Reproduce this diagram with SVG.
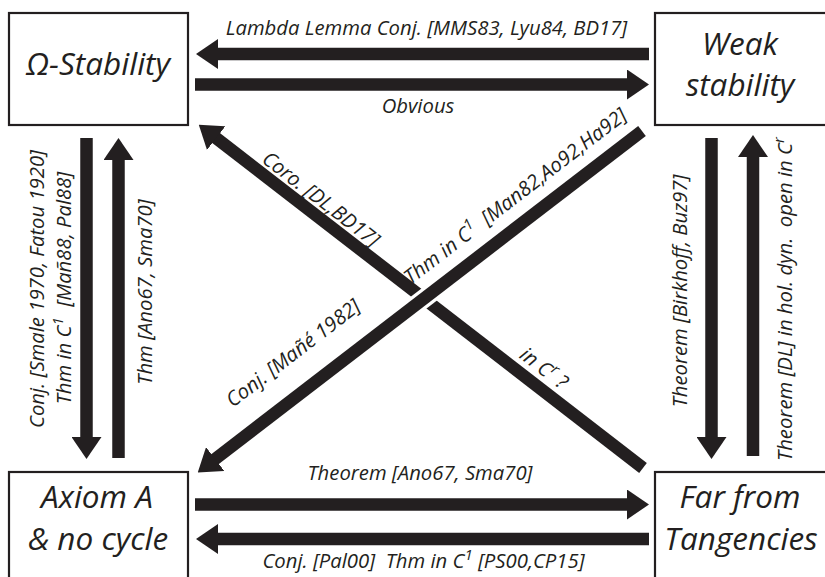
<svg xmlns="http://www.w3.org/2000/svg" width="825" height="577" viewBox="0 0 825 577">
<defs>
<marker id="ah" viewBox="0 0 22 30" refX="1" refY="15" markerWidth="22" markerHeight="30" markerUnits="userSpaceOnUse" orient="auto">
<path d="M0,0 L22,15 L0,30 z" fill="#231f20"/>
</marker>
<style>
.box{fill:#fff;stroke:#231f20;stroke-width:2.2}
.node{font-family:"Open Sans","Noto Sans",sans-serif;font-style:italic;font-size:31.5px;fill:#231f20;text-anchor:middle}
.lbl{font-family:"Open Sans","Noto Sans",sans-serif;font-style:italic;font-size:20.3px;fill:#231f20;text-anchor:middle}
.ar{stroke:#231f20;stroke-width:12.5;fill:none;marker-end:url(#ah)}
.sup{font-size:15px}
</style>
</defs>
<rect width="825" height="577" fill="#fff"/>
<g id="omega">
<rect class="box" x="9" y="13" width="179" height="112"/>
<text class="node" x="98" y="75">Ω-Stability</text>
</g>
<g id="weak">
<rect class="box" x="655" y="13" width="185" height="112"/>
<text class="node" x="740" y="55">Weak</text>
<text class="node" x="740" y="96">stability</text>
</g>
<g id="axiom">
<rect class="box" x="9" y="472" width="179" height="130"/>
<text class="node" x="97" y="508">Axiom A</text>
<text class="node" x="98" y="550">&amp; no cycle</text>
</g>
<g id="far">
<rect class="box" x="655" y="472" width="185" height="130"/>
<text class="node" x="740" y="508">Far from</text>
<text class="node" x="741" y="550">Tangencies</text>
</g>
<g id="connectors">
<line class="ar" x1="649" y1="54" x2="217" y2="54"/>
<line class="ar" x1="195" y1="84.5" x2="628" y2="84.5"/>
<line class="ar" x1="195" y1="504.5" x2="628" y2="504.5"/>
<line class="ar" x1="649" y1="539" x2="217" y2="539"/>
<line class="ar" x1="86.5" y1="138" x2="86.5" y2="438"/>
<line class="ar" x1="118.5" y1="458" x2="118.5" y2="159"/>
<line class="ar" x1="711.5" y1="138" x2="711.5" y2="438"/>
<line class="ar" x1="753" y1="456" x2="753" y2="156"/>
<line class="ar" x1="643" y1="468" x2="215.4" y2="137.5"/>
<line x1="470" y1="263.2" x2="380" y2="332.3" stroke="#fff" stroke-width="19"/>
<line class="ar" x1="642" y1="131" x2="214.4" y2="459.6"/>
</g>
<g id="labels">
<text class="lbl" x="426.5" y="35">Lambda Lemma Conj. [MMS83, Lyu84, BD17]</text>
<text class="lbl" x="418" y="113">Obvious</text>
<text class="lbl" x="420" y="480">Theorem [Ano67, Sma70]</text>
<text class="lbl" x="423.5" y="568">Conj. [Pal00]&#160; Thm in C<tspan class="sup" dy="-8">1</tspan><tspan dy="8"> [PS00,CP15]</tspan></text>
<text class="lbl" transform="translate(37,289) rotate(-90)" dy="0.35em">Conj. [Smale 1970, Fatou 1920]</text>
<text class="lbl" transform="translate(64,288) rotate(-90)" dy="0.35em">Thm in C<tspan class="sup" dy="-8">1</tspan><tspan dy="8">&#160; [Mañ88, Pal88]</tspan></text>
<text class="lbl" transform="translate(145,292) rotate(-90)" dy="0.35em">Thm [Ano67, Sma70]</text>
<text class="lbl" transform="translate(680,291) rotate(-90)" dy="0.35em">Theorem [Birkhoff, Buz97]</text>
<text class="lbl" transform="translate(785,299) rotate(-90)" dy="0.35em">Theorem [DL] in hol. dyn.&#160; open in C<tspan class="sup" dy="-8">r</tspan></text>
<text class="lbl" transform="translate(321,199) rotate(37.6)" dy="0.35em">Coro. [DL,BD17]</text>
<text class="lbl" transform="translate(544,368) rotate(37.6)" dy="0.35em">in C<tspan class="sup" dy="-8">r</tspan><tspan dy="8"> ?</tspan></text>
<text class="lbl" transform="translate(515,196) rotate(-37.5)" dy="0.35em">Thm in C<tspan class="sup" dy="-8">1</tspan><tspan dy="8">&#160; [Man82,Ao92,Ha92]</tspan></text>
<text class="lbl" transform="translate(293,353) rotate(-37.5)" dy="0.35em">Conj. [Mañé 1982]</text>
</g>
</svg>
